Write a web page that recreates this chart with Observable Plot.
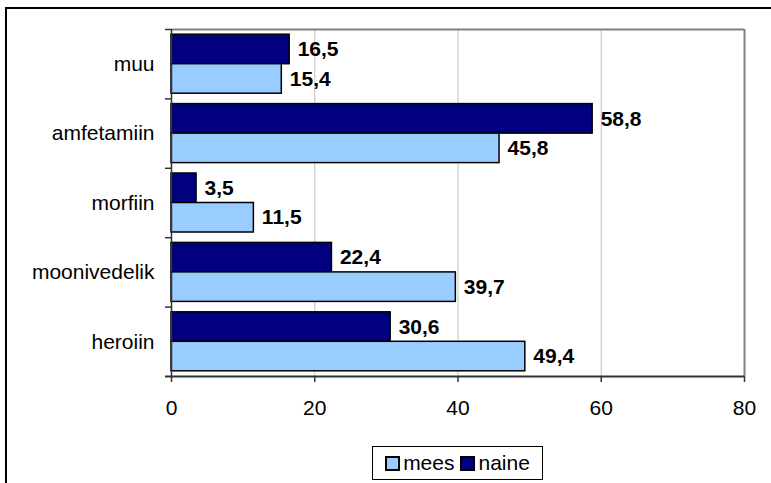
<!DOCTYPE html>
<html>
<head>
<meta charset="utf-8">
<script src="https://cdn.jsdelivr.net/npm/d3@7"></script>
<script src="https://cdn.jsdelivr.net/npm/@observablehq/plot@0.6"></script>
<style>
  html, body { margin: 0; padding: 0; background: #fff; }
  body { width: 771px; height: 483px; position: relative; overflow: hidden;
         font-family: "Liberation Sans", Arial, sans-serif; }
  #frame { position: absolute; left: 5px; top: 7px; width: 780px; height: 490px;
           border-left: 2px solid #000; border-top: 2px solid #000; box-sizing: border-box; pointer-events: none; }
  #chart { position: absolute; left: 0; top: 0; }
  #legend { position: absolute; left: 372px; top: 446px; width: 171px; height: 34px; box-sizing: border-box;
            border: 1px solid #000; display: flex; align-items: center; justify-content: center; gap: 0px;
            font-size: 21px; color: #000; background: #fff; }
  .item { display: flex; align-items: center; margin: 0 3px; }
  .sw { width: 11px; height: 11px; border: 2px solid #000; margin-right: 3px; }
</style>
</head>
<body>
<div id="chart"></div>
<div id="legend"></div>
<div id="frame"></div>
<script>
const categories = ["muu", "amfetamiin", "morfiin", "moonivedelik", "heroiin"];
const naine = [16.5, 58.8, 3.5, 22.4, 30.6];
const mees = [15.4, 45.8, 11.5, 39.7, 49.4];
const xTicks = [0, 20, 40, 60, 80];
const gridTicks = [20, 40, 60];
const seriesNames = ["mees", "naine"];
const seriesColors = ["#99ccff", "#000080"];

const W = 771, H = 440;
const mL = 171, mR = 27, mT = 29, mB = 64;
const pIn = 0.15, pOut = 0.075;
const step = (H - mT - mB) / (categories.length - pIn + 2 * pOut);
const bw = step * (1 - pIn);

const naineRows = categories.map((c, i) => ({category: c, value: naine[i]}));
const meesRows = categories.map((c, i) => ({category: c, value: mees[i]}));
const fmt = d => d.toFixed(1).replace(".", ",");

const plot = Plot.plot({
  width: W, height: H,
  marginLeft: mL, marginRight: mR, marginTop: mT, marginBottom: mB,
  style: {fontSize: "21px", fontFamily: "'Liberation Sans', Arial, sans-serif", color: "#000", background: "transparent"},
  x: {domain: [0, 80], label: null},
  y: {domain: categories, paddingInner: pIn, paddingOuter: pOut, round: false, label: null},
  marks: [
    Plot.ruleX(gridTicks, {stroke: "#bfbfbf", strokeWidth: 1}),
    Plot.ruleX([80], {stroke: "#808080", strokeWidth: 2}),
    Plot.ruleY([categories[0]], {dy: -step / 2, stroke: "#808080", strokeWidth: 2}),
    Plot.barX(naineRows, {x: "value", y: "category", insetBottom: bw / 2, fill: seriesColors[1], stroke: "#000", strokeWidth: 1.5}),
    Plot.barX(meesRows, {x: "value", y: "category", insetTop: bw / 2, fill: seriesColors[0], stroke: "#000", strokeWidth: 1.5}),
    Plot.text(naineRows, {x: "value", y: "category", text: d => fmt(d.value), dy: -bw / 4, dx: 8, textAnchor: "start", fontWeight: "bold"}),
    Plot.text(meesRows, {x: "value", y: "category", text: d => fmt(d.value), dy: bw / 4, dx: 8, textAnchor: "start", fontWeight: "bold"}),
    Plot.ruleY(categories, {dy: -step / 2, x1: 0, x2: 0, insetLeft: -6, stroke: "#333", strokeWidth: 1.5}),
    Plot.ruleX([0], {stroke: "#333", strokeWidth: 1.5}),
    Plot.ruleY([categories[categories.length - 1]], {dy: step / 2, insetLeft: -6, stroke: "#333", strokeWidth: 2}),
    Plot.axisX({ticks: xTicks, tickSize: 6, tickPadding: 18, stroke: "#333", strokeWidth: 1.5, label: null}),
    Plot.axisY({tickSize: 0, tickPadding: 17, label: null})
  ]
});
document.getElementById("chart").appendChild(plot);

const legend = document.getElementById("legend");
seriesNames.forEach((name, i) => {
  const item = document.createElement("div");
  item.className = "item";
  const sw = document.createElement("div");
  sw.className = "sw";
  sw.style.background = seriesColors[i];
  const label = document.createElement("span");
  label.textContent = name;
  item.appendChild(sw);
  item.appendChild(label);
  legend.appendChild(item);
});
</script>
</body>
</html>
